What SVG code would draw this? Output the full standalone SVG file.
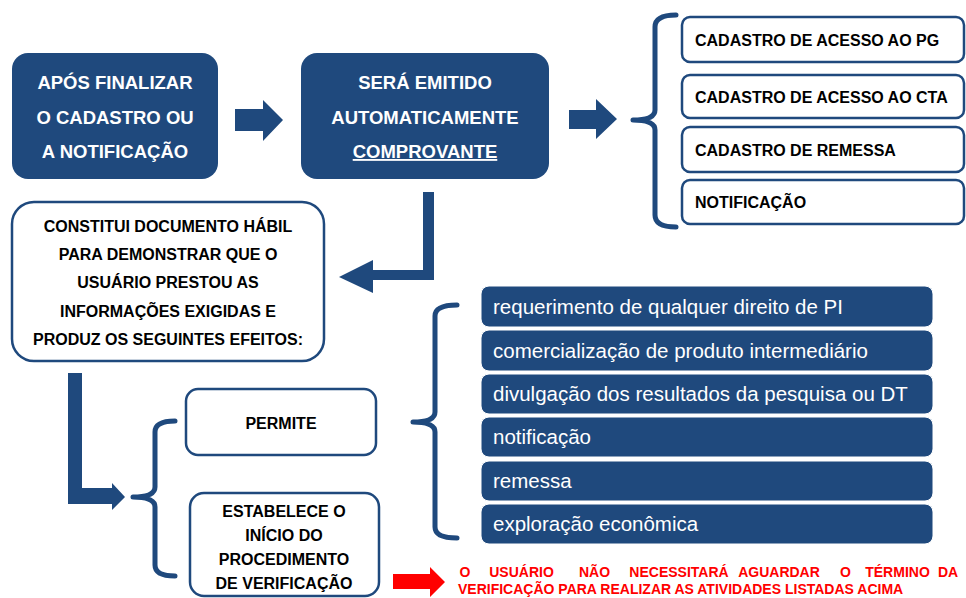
<svg xmlns="http://www.w3.org/2000/svg" width="966" height="598" viewBox="0 0 966 598">
<style>
.bg{fill:#ffffff}
.dark{fill:#1F497D}
.wbox{fill:#ffffff;stroke:#1F497D;stroke-width:2.5}
.lbox{fill:#1F497D;stroke:#ffffff;stroke-width:1}
.brace{fill:none;stroke:#1F497D;stroke-width:5;stroke-linecap:round;stroke-linejoin:round}
.arrow{fill:#1F497D}
.red{fill:#FF0000}
text{font-family:"Liberation Sans",Arial,sans-serif}
.tw{fill:#ffffff;font-weight:bold;font-size:18.5px;text-anchor:middle}
.tb{fill:#000000;font-weight:bold;font-size:16px}
.tc{fill:#000000;font-weight:bold;font-size:16px;text-anchor:middle}
.tl{fill:#ffffff;font-size:20.5px}
.tr{fill:#FF0000;font-weight:bold;font-size:14px}
</style>
<rect class="bg" x="0" y="0" width="966" height="598"/>

<g id="connectors">
  <polygon class="arrow" points="235,109 263,109 263,100 283,120 263,141 263,131 235,131"/>
  <polygon class="arrow" points="569,110 596,110 596,99 617,119 596,139 596,129 569,129"/>
  <polygon class="arrow" points="423,192 434,192 434,280 373,280 373,293 339,277 373,260 373,270 423,270"/>
  <polygon class="arrow" points="68,373 82,373 82,488 112,488 112,483 125,497 112,510 112,504 68,504"/>
  <path class="brace" d="M676,15 Q655,15 655,27 L655,110 Q655,120 633,120 Q655,120 655,130 L655,215 Q655,227 676,227"/>
  <path class="brace" d="M175,421 Q155,421 155,432 L155,487 Q155,497 133,497 Q155,497 155,507 L155,565 Q155,576 175,576"/>
  <path class="brace" d="M457,305 Q435,305 435,316 L435,412 Q435,422 413,422 Q435,422 435,432 L435,527 Q435,538 457,538"/>
  <polygon class="red" points="393,574 430,574 430,567 445,582 430,597 430,589 393,589"/>
</g>

<g id="node-apos">
  <rect class="dark" x="12" y="53" width="206" height="126" rx="16"/>
  <text class="tw" x="115" y="89">APÓS FINALIZAR</text>
  <text class="tw" x="115" y="124">O CADASTRO OU</text>
  <text class="tw" x="115" y="158">A NOTIFICAÇÃO</text>
</g>

<g id="node-emitido">
  <rect class="dark" x="301" y="53" width="248" height="126" rx="16"/>
  <text class="tw" x="425" y="89">SERÁ EMITIDO</text>
  <text class="tw" x="425" y="124" font-size="19.5">AUTOMATICAMENTE</text>
  <text class="tw" x="425" y="158" text-decoration="underline">COMPROVANTE</text>
</g>

<g id="node-pg">
  <rect class="wbox" x="682" y="17" width="282" height="45" rx="8"/>
  <text class="tb" x="695" y="46">CADASTRO DE ACESSO AO PG</text>
</g>
<g id="node-cta">
  <rect class="wbox" x="682" y="75" width="282" height="43" rx="8"/>
  <text class="tb" x="695" y="103">CADASTRO DE ACESSO AO CTA</text>
</g>
<g id="node-remessa">
  <rect class="wbox" x="682" y="127" width="282" height="45" rx="8"/>
  <text class="tb" x="695" y="156">CADASTRO DE REMESSA</text>
</g>
<g id="node-notificacao">
  <rect class="wbox" x="682" y="180" width="282" height="44" rx="8"/>
  <text class="tb" x="695" y="208">NOTIFICAÇÃO</text>
</g>

<g id="node-constitui">
  <rect class="wbox" x="12" y="202" width="312" height="159" rx="22"/>
  <text class="tc" x="168" y="232" font-size="16.8">CONSTITUI DOCUMENTO HÁBIL</text>
  <text class="tc" x="168" y="260" font-size="16.8">PARA DEMONSTRAR QUE O</text>
  <text class="tc" x="168" y="288" font-size="16.8">USUÁRIO PRESTOU AS</text>
  <text class="tc" x="168" y="317" font-size="16.8">INFORMAÇÕES EXIGIDAS E</text>
  <text class="tc" x="168" y="345" font-size="16.8">PRODUZ OS SEGUINTES EFEITOS:</text>
</g>

<g id="node-permite">
  <rect class="wbox" x="186" y="389" width="190" height="66" rx="12"/>
  <text class="tc" x="281" y="429">PERMITE</text>
</g>

<g id="node-estabelece">
  <rect class="wbox" x="190" y="493" width="189" height="103" rx="14"/>
  <text class="tc" x="284" y="517">ESTABELECE O</text>
  <text class="tc" x="284" y="541">INÍCIO DO</text>
  <text class="tc" x="284" y="565">PROCEDIMENTO</text>
  <text class="tc" x="284" y="589">DE VERIFICAÇÃO</text>
</g>

<g id="node-list1">
  <rect class="lbox" x="481" y="286" width="452" height="41" rx="8"/>
  <text class="tl" x="493" y="314">requerimento de qualquer direito de PI</text>
</g>
<g id="node-list2">
  <rect class="lbox" x="481" y="330" width="452" height="41" rx="8"/>
  <text class="tl" x="493" y="358">comercialização de produto intermediário</text>
</g>
<g id="node-list3">
  <rect class="lbox" x="481" y="374" width="452" height="40" rx="8"/>
  <text class="tl" x="493" y="401">divulgação dos resultados da pesquisa ou DT</text>
</g>
<g id="node-list4">
  <rect class="lbox" x="481" y="417" width="452" height="40" rx="8"/>
  <text class="tl" x="493" y="444">notificação</text>
</g>
<g id="node-list5">
  <rect class="lbox" x="481" y="461" width="452" height="40" rx="8"/>
  <text class="tl" x="493" y="488">remessa</text>
</g>
<g id="node-list6">
  <rect class="lbox" x="481" y="504" width="452" height="40" rx="8"/>
  <text class="tl" x="493" y="531">exploração econômica</text>
</g>

<g id="note">
  <text class="tr" y="577" text-anchor="middle"><tspan x="465">O</tspan><tspan x="521.5">USUÁRIO</tspan><tspan x="594.5">NÃO</tspan><tspan x="679">NECESSITARÁ</tspan><tspan x="779">AGUARDAR</tspan><tspan x="845.5">O</tspan><tspan x="897.5">TÉRMINO</tspan><tspan x="948">DA</tspan></text>
  <text class="tr" x="458" y="594" font-size="13.8">VERIFICAÇÃO PARA REALIZAR AS ATIVIDADES LISTADAS ACIMA</text>
</g>
</svg>
